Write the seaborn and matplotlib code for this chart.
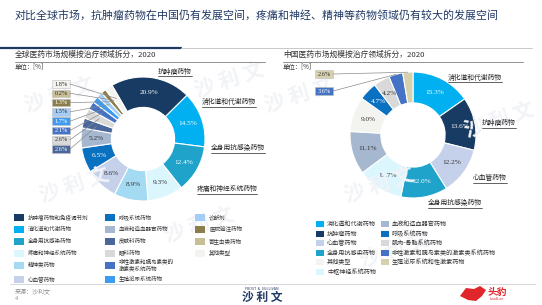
import matplotlib
matplotlib.use("Agg")
import matplotlib.pyplot as plt
import seaborn as sns
import numpy as np
from matplotlib.patches import Rectangle, Polygon
from matplotlib.lines import Line2D
from matplotlib import colors as mcolors

sns.set_theme(style="white")
CJK = ['Noto Sans CJK SC', 'DejaVu Sans']
SERIF = ['Liberation Serif', 'DejaVu Serif']
plt.rcParams['font.family'] = CJK

# ---- data: global market (left) ----
glob_names = ["抗肿瘤药物和免疫调节剂", "消化道和代谢药物", "全身用抗感染药物", "疼痛和神经系统药物",
              "精神类药物", "心血管药物", "呼吸系统药物", "血液和造血器官药物", "皮肤科药物", "眼科药物",
              "非性激素和胰岛素类的\n激素类系统药物", "生殖泌尿系统药物", "诊断剂", "医院输注药物",
              "寄生虫类药物", "其他类型"]
glob_vals = [20.9, 14.5, 12.4, 9.3, 8.9, 8.6, 6.5, 5.2, 2.6, 2.6, 2.1, 1.7, 1.5, 1.3, 0.2, 1.8]
glob_colors = ["#173b63", "#00b0f0", "#1fa3cb", "#dcf6fe", "#a4dbf2", "#c5d0ea", "#0a70c0", "#a6b8d0",
               "#49679b", "#d9d9d9", "#4472c4", "#3d9bf2", "#a3cdf6", "#8b7e4a", "#c7bf96", "#f3f3ef"]

# ---- data: China market (right) ----
cn_names = ["消化道和代谢药物", "抗肿瘤药物", "心血管药物", "全身用抗感染药物", "中枢神经系统药物",
            "血液和造血器官药物", "其他类型", "呼吸系统药物", "肌肉-骨骼系统药物",
            "非性激素和胰岛素类的激素类系统药物", "生殖泌尿系统和性激素药物"]
cn_vals = [15.3, 13.6, 12.2, 12.0, 11.7, 11.1, 9.0, 4.7, 4.2, 3.6, 2.6]
cn_colors = ["#00b0f0", "#173b63", "#c5d0ea", "#1fa3cb", "#dcf6fe", "#a6b8d0", "#f3f3ef", "#0a70c0",
             "#d9d9d9", "#4472c4", "#d5d1ae"]
cn_legend_order = [0, 1, 2, 3, 6, 4, 5, 7, 8, 9, 10]

glob_callouts = ["抗肿瘤药物", "消化道和代谢药物", "全身用抗感染药物", "疼痛和神经系统药物"]
cn_callouts = ["消化道和代谢药物", "抗肿瘤药物", "心血管药物", "全身用抗感染药物"]

W, H = 542, 305
fig = plt.figure(figsize=(W / 100, H / 100), dpi=100)
fig.patch.set_facecolor("white")

def fx(x):
    return x / W

def fy(y):
    return 1 - y / H

def ftext(x, y, s, **kw):
    return fig.text(fx(x), fy(y), s, **kw)

def fline(xs, ys, **kw):
    fig.add_artist(Line2D([fx(v) for v in xs], [fy(v) for v in ys], transform=fig.transFigure, **kw))

def is_dark(c):
    r, g, b = mcolors.to_rgb(c)
    return 0.299 * r + 0.587 * g + 0.114 * b < 0.55

# watermarks
for wx, wy in [(60, 95), (75, 185), (200, 225), (300, 95), (380, 185), (500, 120), (395, 250), (230, 80)]:
    ftext(wx, wy, "沙 利 文", fontsize=15, color="#f1f3f7", rotation=18, ha="center", va="center",
          fontweight="bold", zorder=0)

# header
ftext(15, 15, "对比全球市场，抗肿瘤药物在中国仍有发展空间，疼痛和神经、精神等药物领域仍有较大的发展空间",
      fontsize=7.9, color="#1f3864", va="center", fontweight="medium")
fline([0, 181], [48, 48], color="#1f3864", lw=1.6)
fline([181, 532], [48, 48], color="#c8c8c8", lw=0.7)

def donut(cx, cy, r, vals, cols, start, small_thr):
    ax = fig.add_axes([fx(cx - r), fy(cy + r), 2 * r / W, 2 * r / H])
    wedges, _ = ax.pie(vals, colors=cols, startangle=start, counterclock=False, radius=1,
                       wedgeprops=dict(width=0.49, edgecolor="white", linewidth=0.8))
    ax.set_xlim(-1, 1)
    ax.set_ylim(-1, 1)
    ax.set_aspect("equal")
    ax.axis("off")
    mids = []
    for w, v, c in zip(wedges, vals, cols):
        ang = np.deg2rad((w.theta1 + w.theta2) / 2)
        mids.append(ang)
        if v >= small_thr:
            ax.text(0.755 * np.cos(ang), 0.755 * np.sin(ang), f"{v:.1f}%", ha="center", va="center",
                    fontsize=5.2, family=SERIF, color="white" if is_dark(c) else "#333333")
    return ax, mids

def to_px(cx, cy, r, rad, ang):
    return cx + r * rad * np.cos(ang), cy - r * rad * np.sin(ang)

# ---- left panel ----
ftext(15, 55, "全球医药市场规模按治疗领域拆分，2020", fontsize=5.6, color="#333333", va="center")
fline([15, 265], [62, 62], color="#7f7f7f", lw=0.6)
ftext(15, 67, "单位：[%]", fontsize=4.6, color="#333333", va="center")

lcx, lcy, lr = 143, 139, 62
axl, lmids = donut(lcx, lcy, lr, glob_vals, glob_colors, 120, 5)

small_idx = [i for i, v in enumerate(glob_vals) if v < 5][::-1]
box_ys = [84, 93.3, 102.6, 111.9, 121.2, 130.5, 139.8, 149.1]
for i, by in zip(small_idx, box_ys):
    c = glob_colors[i]
    fig.add_artist(Rectangle((fx(52), fy(by + 3.8)), 18 / W, 7.6 / H, transform=fig.transFigure,
                             facecolor=c, edgecolor="#bfbfbf", lw=0.4))
    ftext(61, by, f"{glob_vals[i]:.1f}%", fontsize=4.6, family=SERIF, ha="center", va="center",
          color="white" if is_dark(c) else "#333333")
    px, py = to_px(lcx, lcy, lr, 0.78, lmids[i])
    fline([70, px], [by, py], color="#8c8c8c", lw=0.5)

callout_texts = []
for s, (x, y) in zip(glob_callouts, [(175, 72), (229, 102), (238, 148), (227, 189)]):
    callout_texts.append(ftext(x, y, s, fontsize=4.9, color="#222222", ha="center", va="center"))

# ---- right panel ----
ftext(283, 55, "中国医药市场规模按治疗领域拆分，2020", fontsize=5.6, color="#333333", va="center")
fline([283, 523], [62, 62], color="#7f7f7f", lw=0.6)
ftext(283, 67, "单位：[%]", fontsize=4.6, color="#333333", va="center")

rcx, rcy, rr = 413, 135, 63
axr, rmids = donut(rcx, rcy, rr, cn_vals, cn_colors, 90, 4)

for i, by in zip([10, 9], [74, 91]):
    c = cn_colors[i]
    fig.add_artist(Rectangle((fx(315), fy(by + 3.8)), 18 / W, 7.6 / H, transform=fig.transFigure,
                             facecolor=c, edgecolor="#bfbfbf", lw=0.4))
    ftext(324, by, f"{cn_vals[i]:.1f}%", fontsize=4.6, family=SERIF, ha="center", va="center",
          color="white" if is_dark(c) else "#333333")
    px, py = to_px(rcx, rcy, rr, 1.0, rmids[i])
    fline([333, px], [by, py], color="#8c8c8c", lw=0.5)

for s, (x, y) in zip(cn_callouts, [(475, 78), (499, 123), (490, 178), (455, 203)]):
    callout_texts.append(ftext(x, y, s, fontsize=4.9, color="#222222", ha="center", va="center"))

# ---- legends ----
def swatch(x, y, w, h, c):
    fig.add_artist(Rectangle((fx(x), fy(y + h / 2)), w / W, h / H, transform=fig.transFigure,
                             facecolor=c, edgecolor="none"))

left_cols = [(14, [0, 1, 2, 3, 4, 5]), (105, [6, 7, 8, 9, 10, 11]), (195, [12, 13, 14, 15])]
left_rows = [217, 229, 241, 253, 265, 279]
for x0, idxs in left_cols:
    for i, y in zip(idxs, left_rows):
        swatch(x0, y, 10, 7, glob_colors[i])
        ftext(x0 + 14, y, glob_names[i], fontsize=4.0, color="#333333", va="center", linespacing=1.5)

right_rows = [224, 234, 243, 253, 262, 272]
for x0, idxs in [(316, cn_legend_order[:6]), (381, cn_legend_order[6:])]:
    for i, y in zip(idxs, right_rows):
        swatch(x0, y, 8, 6, cn_colors[i])
        ftext(x0 + 11, y, cn_names[i], fontsize=4.4, color="#333333", va="center")

# ---- footer ----
fline([10, 535], [284, 284], color="#d0d0d0", lw=0.6)
ftext(15, 291, "来源：沙利文", fontsize=4.3, color="#8c8c8c", va="center")
ftext(15, 299, "4", fontsize=4.3, color="#8c8c8c", va="center", family=SERIF)
ftext(262, 288.5, "FROST  &  SULLIVAN", fontsize=2.6, color="#1f3864", ha="center", va="center")
ftext(262, 297.5, "沙 利 文", fontsize=8.5, color="#1f3864", ha="center", va="center", fontweight="bold")
fig.add_artist(Polygon([(fx(x), fy(y)) for x, y in [(460, 296), (466, 288), (474, 289), (480, 286),
                                                    (486, 290), (482, 296), (476, 301), (468, 300)]],
                       closed=True, transform=fig.transFigure, facecolor="#e0262b", edgecolor="none"))
ftext(497, 292, "头豹", fontsize=7, color="#e0262b", ha="center", va="center", fontweight="bold")
ftext(497, 299.5, "LeadLeo", fontsize=2.6, color="#e0262b", ha="center", va="center")

# underline callouts
fig.canvas.draw()
rend = fig.canvas.get_renderer()
for t in callout_texts:
    bb = t.get_window_extent(rend)
    fig.add_artist(Line2D([bb.x0 / W, bb.x1 / W], [(bb.y0 - 0.5) / H] * 2, transform=fig.transFigure,
                          color="#222222", lw=0.5))

fig.savefig("out.png", dpi=100)
